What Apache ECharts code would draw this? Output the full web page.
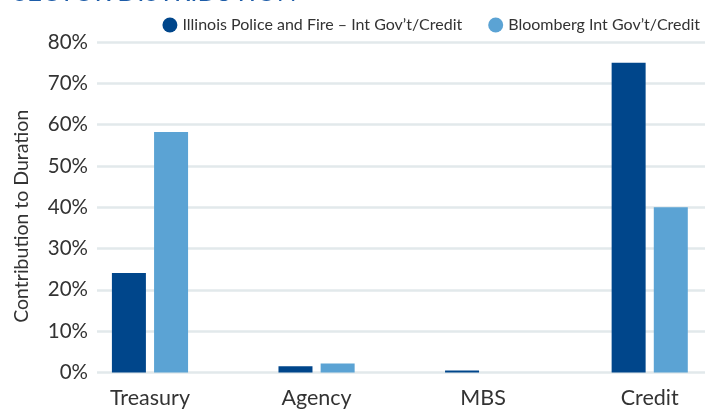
<!DOCTYPE html>
<html><head><meta charset="utf-8">
<script src="https://cdn.jsdelivr.net/npm/echarts@6/dist/echarts.min.js"></script>
<style>html,body{margin:0;padding:0;background:#fff;overflow:hidden;width:705px;height:410px}#c{width:733px;height:410px}</style>
</head><body><div id="c"></div>
<script>
const categories = ['Treasury', 'Agency', 'MBS', 'Credit'];
const seriesNames = ['Illinois Police and Fire \u2013 Int Gov\u2019t/Credit', 'Bloomberg Int Gov\u2019t/Credit'];
const illinoisValues = [24.1, 1.5, 0.5, 75.0];
const bloombergValues = [58.2, 2.2, 0, 40.0];
const yTicks = [0, 10, 20, 30, 40, 50, 60, 70, 80];

const FONT = 'Lato, "Open Sans", sans-serif';
const chart = echarts.init(document.getElementById('c'));
const gridTop = 42, gridBottom = 37.5;
chart.setOption({
  animation: false,
  title: {
    text: 'SECTOR DISTRIBUTION', left: 8, top: -25,
    textStyle: { color: '#1d5ca8', fontSize: 26, fontWeight: 'normal', fontFamily: FONT }
  },
  legend: {
    right: 28, top: 12, itemGap: 26, icon: 'circle', itemWidth: 15, itemHeight: 15,
    textStyle: { color: '#333', fontSize: 16, fontFamily: FONT }
  },
  grid: [
    { left: 97, top: gridTop, bottom: gridBottom, right: 0 },
    { left: 66.7, top: gridTop, bottom: gridBottom, right: 0 }
  ],
  xAxis: [
    { type: 'category', gridIndex: 0, data: categories, show: false },
    { type: 'category', gridIndex: 1, data: categories,
      axisLine: { show: false }, axisTick: { show: false },
      axisLabel: { color: '#333', fontSize: 21.5, fontFamily: FONT, margin: 15 } }
  ],
  yAxis: [
    { type: 'value', gridIndex: 0, min: yTicks[0], max: yTicks[yTicks.length - 1], interval: 10,
      name: 'Contribution to Duration', nameLocation: 'middle', nameGap: 65,
      nameTextStyle: { color: '#333', fontSize: 19.5, fontFamily: FONT, padding: [0, 18, 0, 0] },
      axisLine: { show: false }, axisTick: { show: false },
      axisLabel: { color: '#333', fontSize: 20.5, fontFamily: FONT, margin: 9, formatter: '{value}%' },
      splitLine: { lineStyle: { color: '#e2e9eb', width: 2.5 } } },
    { type: 'value', gridIndex: 1, min: yTicks[0], max: yTicks[yTicks.length - 1], interval: 10, show: false,
      splitLine: { show: false } }
  ],
  series: [
    { name: seriesNames[0], type: 'bar', xAxisIndex: 1, yAxisIndex: 1, data: illinoisValues,
      barWidth: 34, barGap: '24%', itemStyle: { color: '#00468b' } },
    { name: seriesNames[1], type: 'bar', xAxisIndex: 1, yAxisIndex: 1, data: bloombergValues,
      barWidth: 34, barGap: '24%', itemStyle: { color: '#5ba3d4' } }
  ]
});
</script></body></html>
